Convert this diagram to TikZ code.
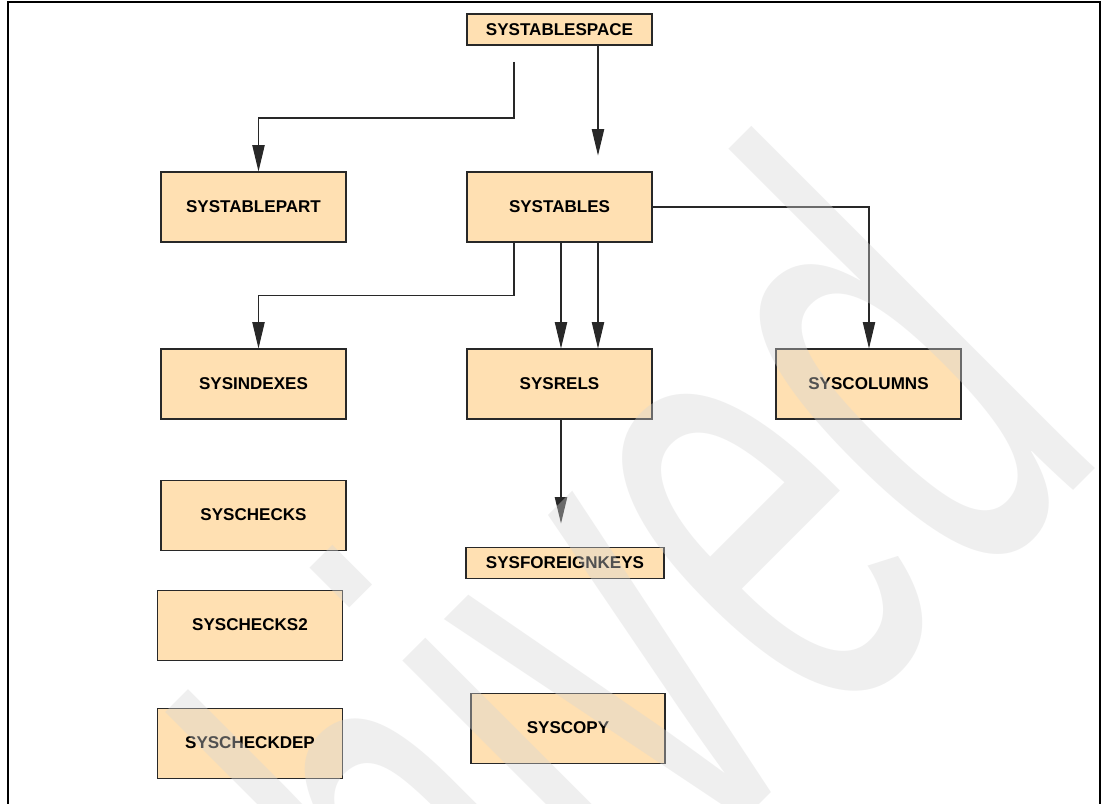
\documentclass[tikz,border=0pt]{standalone}
\usepackage{fontspec}
\setmainfont{Liberation Sans}
\usepackage{xcolor}
\usetikzlibrary{arrows.meta,positioning}

\definecolor{tblfill}{RGB}{255,224,178}
\definecolor{tblline}{RGB}{40,40,40}

\begin{document}
\begin{tikzpicture}[
  x=0.02cm, y=-0.02cm,
  >={Triangle[length=15pt,width=7pt]},
  tbl/.style={draw=tblline, line width=0.6pt, fill=tblfill, minimum width=3.7cm, minimum height=1.4cm, inner sep=0pt, align=center, font=\bfseries\fontsize{9.7}{11}\selectfont},
  thin/.style={tbl, minimum height=0.62cm},
  flow/.style={->, draw=tblline, line width=0.6pt}
]
\useasboundingbox (0,0) rectangle (1103,804);
\clip (0,0) rectangle (1103,804);
\fill[white] (0,0) rectangle (1103,804);
\draw[line width=0.6pt] (8,2) rectangle (1100,830);

% catalog tables
\node[tbl] (tables) at (559.5,207) {SYSTABLES};
\node[thin, above=2.52cm of tables] (space) {SYSTABLESPACE};
\node[tbl, left=2.4cm of tables] (part) {SYSTABLEPART};
\node[tbl, below=2.12cm of tables] (rels) {SYSRELS};
\node[tbl, left=2.4cm of rels] (indexes) {SYSINDEXES};
\node[tbl, right=2.46cm of rels] (columns) {SYSCOLUMNS};
\node[tbl, below=1.2cm of indexes] (checks) {SYSCHECKS};
\node[tbl, below=0.78cm of checks, xshift=-0.07cm] (checkstwo) {SYSCHECKS2};
\node[tbl, below=0.94cm of checkstwo] (checkdep) {SYSCHECKDEP};
\node[thin, minimum width=3.96cm, below=2.54cm of rels, xshift=0.11cm] (fkeys) {SYSFOREIGNKEYS};
\node[tbl, minimum width=3.88cm, below=2.28cm of fkeys, xshift=0.06cm] (copy) {SYSCOPY};

% links
\coordinate (spleft) at (514,62);
\draw[flow] (spleft) -- ++(0,56) -| ([xshift=0.1cm]part.north);
\draw[flow] ([xshift=0.77cm]space.south) -- ++(0,110);
\draw[flow] (tables.east) -| ([xshift=0.01cm]columns.north);
\draw[flow] ([xshift=-0.91cm]tables.south) -- ++(0,53) -| ([xshift=0.1cm]indexes.north);
\draw[flow] ([xshift=0.03cm]tables.south) -- ([xshift=0.03cm]rels.north);
\draw[flow] ([xshift=0.77cm]tables.south) -- ([xshift=0.77cm]rels.north);
\draw[flow] ([xshift=0.03cm]rels.south) -- ++(0,104);

% watermark
\node[anchor=base east, rotate=45, xscale=0.55, inner sep=0pt, text=black!16, text opacity=0.38,
  font=\fontsize{381}{381}\selectfont] (mark) at (1113,451) {Archived};
\end{tikzpicture}
\end{document}
